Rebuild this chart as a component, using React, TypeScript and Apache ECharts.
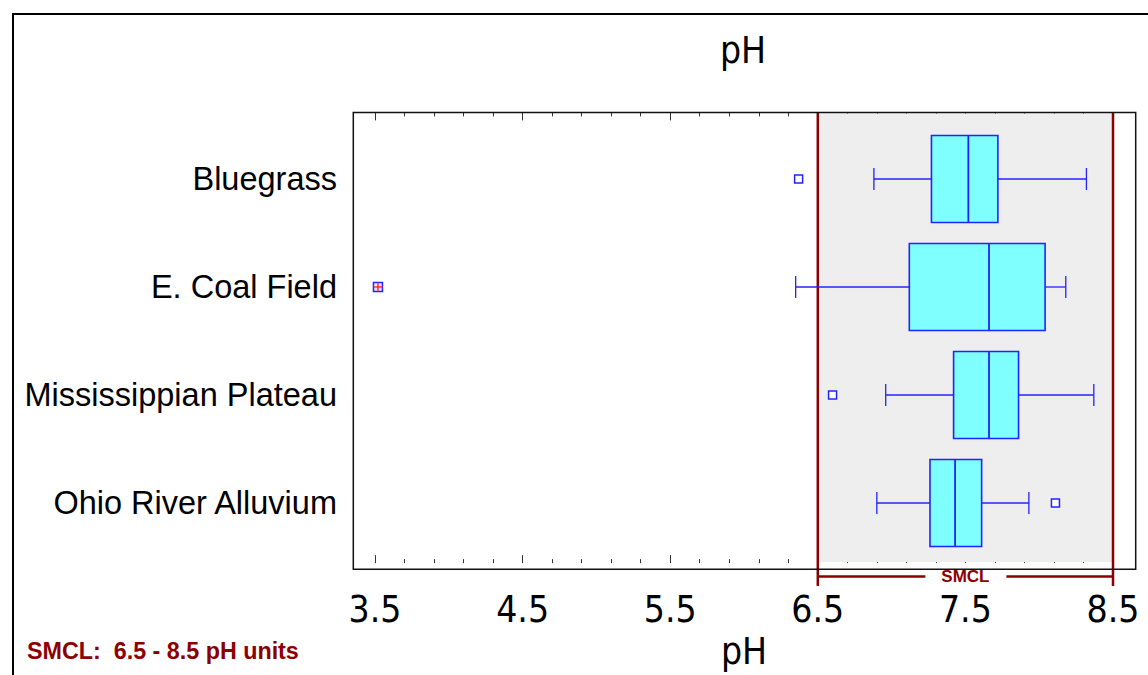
import React, { useEffect, useRef } from 'react';
import * as echarts from 'echarts';

// ---- data ----
const categories = ['Bluegrass', 'E. Coal Field', 'Mississippian Plateau', 'Ohio River Alluvium'];
const whiskerLow = [6.88, 6.35, 6.96, 6.9];
const quartile1 = [7.27, 7.12, 7.42, 7.26];
const median = [7.52, 7.66, 7.66, 7.43];
const quartile3 = [7.72, 8.04, 7.86, 7.61];
const whiskerHigh = [8.32, 8.18, 8.37, 7.93];
const outliers: [number, number][] = [
  [6.37, 0],
  [6.6, 2],
  [8.11, 3],
];
const farOutliers: [number, number][] = [[3.52, 1]];
const smclRange = [6.5, 8.5];
const axisMin = 3.5;
const axisMax = 8.5;
const axisStep = 1;
const frameMin = 3.353;
const frameMax = 8.656;

const NARROW = "'Liberation Sans Narrow', 'Arial Narrow', 'DejaVu Sans Condensed', sans-serif";
const SANS = "'Liberation Sans', Arial, sans-serif";
const DARKRED = '#8B0000';
const BLUE = '#2323ff';

export default function App() {
  const ref = useRef<HTMLDivElement>(null);

  useEffect(() => {
    const chart = echarts.init(ref.current!, null, { renderer: 'svg' });

    const boxRows = categories.map((_, i) => [
      i,
      whiskerLow[i],
      quartile1[i],
      median[i],
      quartile3[i],
      whiskerHigh[i],
    ]);

    const tickAxisCommon = {
      type: 'value',
      gridIndex: 1,
      min: axisMin,
      max: axisMax,
      interval: axisStep,
      axisLine: { show: false },
      axisTick: { show: true, inside: true, length: 8, lineStyle: { color: '#333', width: 1 } },
      minorTick: { show: true, splitNumber: 5, length: 4, lineStyle: { color: '#333', width: 1 } },
      splitLine: { show: false },
    };

    const option: any = {
      animation: false,
      backgroundColor: '#fff',
      grid: [
        {
          left: 353.3,
          top: 112.4,
          width: 782.4,
          height: 456.9,
          show: true,
          borderColor: '#111',
          borderWidth: 1.5,
          backgroundColor: 'transparent',
          z: 5,
        },
        { left: 375, top: 112.4, width: 738, height: 456.9 },
        { left: 375, top: 125, width: 738, height: 432 },
      ],
      xAxis: [
        { type: 'value', gridIndex: 0, min: frameMin, max: frameMax, show: false },
        {
          ...tickAxisCommon,
          position: 'bottom',
          axisLabel: {
            show: true,
            fontSize: 37,
            fontFamily: NARROW,
            color: '#000',
            margin: 28,
            showMinLabel: true,
            showMaxLabel: true,
            formatter: (v: number) => v.toFixed(1),
          },
          name: 'pH',
          nameLocation: 'middle',
          nameGap: 69,
          nameTextStyle: { fontSize: 37, fontFamily: NARROW, color: '#000' },
        },
        {
          ...tickAxisCommon,
          position: 'top',
          axisLabel: { show: false },
        },
        { type: 'value', gridIndex: 2, min: axisMin, max: axisMax, show: false },
      ],
      yAxis: [
        { type: 'value', gridIndex: 0, show: false },
        { type: 'value', gridIndex: 1, min: 0, max: 1, show: false },
        {
          type: 'category',
          gridIndex: 2,
          data: categories,
          inverse: true,
          axisLine: { show: false },
          axisTick: { show: false },
          splitLine: { show: false },
          axisLabel: { fontSize: 32.5, fontFamily: SANS, color: '#000', margin: 38 },
        },
      ],
      graphic: [
        {
          type: 'rect',
          z: 0,
          silent: true,
          shape: { x: 13, y: 14, width: 1400, height: 900 },
          style: { fill: 'none', stroke: '#000', lineWidth: 2 },
        },
        {
          type: 'text',
          x: 743,
          y: 50,
          style: {
            text: 'pH',
            fontSize: 37,
            fontFamily: NARROW,
            fill: '#000',
            align: 'center',
            verticalAlign: 'middle',
          },
        },
        {
          type: 'text',
          x: 27,
          y: 651,
          style: {
            text: 'SMCL:  6.5 - 8.5 pH units',
            fontSize: 23.3,
            fontWeight: 'bold',
            fontFamily: SANS,
            fill: DARKRED,
            align: 'left',
            verticalAlign: 'middle',
          },
        },
      ],
      series: [
        {
          type: 'custom',
          name: 'SMCL',
          xAxisIndex: 1,
          yAxisIndex: 1,
          silent: true,
          z: 1,
          clip: false,
          data: [[smclRange[0], smclRange[1]]],
          encode: { x: [0, 1] },
          renderItem: (params: any, api: any) => {
            const cs = params.coordSys;
            const x1 = api.coord([api.value(0), 0])[0];
            const x2 = api.coord([api.value(1), 0])[0];
            const top = cs.y;
            const bot = cs.y + cs.height;
            const xm = (x1 + x2) / 2;
            const by = bot + 13.5;
            const red = { stroke: DARKRED, lineWidth: 2.5 };
            return {
              type: 'group',
              children: [
                {
                  type: 'rect',
                  shape: { x: x1, y: top + 1, width: x2 - x1, height: cs.height - 2 },
                  style: { fill: '#EEEEEE' },
                },
                { type: 'line', shape: { x1: x1, y1: top, x2: x1, y2: bot + 23 }, style: red },
                { type: 'line', shape: { x1: x2, y1: top, x2: x2, y2: bot + 23 }, style: red },
                { type: 'line', shape: { x1: x1, y1: by, x2: xm - 40, y2: by }, style: red },
                { type: 'line', shape: { x1: xm + 41, y1: by, x2: x2, y2: by }, style: red },
                {
                  type: 'text',
                  x: xm,
                  y: by,
                  style: {
                    text: 'SMCL',
                    fill: DARKRED,
                    fontSize: 17,
                    fontWeight: 'bold',
                    fontFamily: SANS,
                    align: 'center',
                    verticalAlign: 'middle',
                  },
                },
              ],
            };
          },
        },
        {
          type: 'custom',
          name: 'pH boxes',
          xAxisIndex: 3,
          yAxisIndex: 2,
          z: 3,
          clip: false,
          data: boxRows,
          encode: { x: [1, 2, 3, 4, 5], y: 0 },
          renderItem: (params: any, api: any) => {
            const ci = api.value(0);
            const p = [1, 2, 3, 4, 5].map((d) => api.coord([api.value(d), ci]));
            const y = p[0][1];
            const h = 87;
            const cap = 11;
            const ls = { stroke: BLUE, lineWidth: 1.3 };
            return {
              type: 'group',
              children: [
                { type: 'line', shape: { x1: p[0][0], y1: y, x2: p[1][0], y2: y }, style: ls },
                { type: 'line', shape: { x1: p[3][0], y1: y, x2: p[4][0], y2: y }, style: ls },
                { type: 'line', shape: { x1: p[0][0], y1: y - cap, x2: p[0][0], y2: y + cap }, style: ls },
                { type: 'line', shape: { x1: p[4][0], y1: y - cap, x2: p[4][0], y2: y + cap }, style: ls },
                {
                  type: 'rect',
                  shape: { x: p[1][0], y: y - h / 2, width: p[3][0] - p[1][0], height: h },
                  style: { fill: '#80FFFF', stroke: BLUE, lineWidth: 1.6 },
                },
                {
                  type: 'line',
                  shape: { x1: p[2][0], y1: y - h / 2, x2: p[2][0], y2: y + h / 2 },
                  style: { stroke: BLUE, lineWidth: 1.8 },
                },
              ],
            };
          },
        },
        {
          type: 'scatter',
          name: 'Outliers',
          xAxisIndex: 3,
          yAxisIndex: 2,
          z: 4,
          symbol: 'rect',
          symbolSize: 8,
          itemStyle: { color: '#ffffff', borderColor: BLUE, borderWidth: 1.5, opacity: 1 },
          data: outliers,
        },
        {
          type: 'custom',
          name: 'Far outliers',
          xAxisIndex: 3,
          yAxisIndex: 2,
          z: 4,
          clip: false,
          data: farOutliers,
          encode: { x: 0, y: 1 },
          renderItem: (params: any, api: any) => {
            const c = api.coord([api.value(0), api.value(1)]);
            const s = 4.5;
            return {
              type: 'group',
              children: [
                {
                  type: 'rect',
                  shape: { x: c[0] - s, y: c[1] - s, width: 2 * s, height: 2 * s },
                  style: { fill: '#f4e4ff', stroke: BLUE, lineWidth: 1.5 },
                },
                { type: 'line', shape: { x1: c[0], y1: c[1] - s, x2: c[0], y2: c[1] + s }, style: { stroke: '#ff2020', lineWidth: 1.3 } },
                { type: 'line', shape: { x1: c[0] - s, y1: c[1], x2: c[0] + s, y2: c[1] }, style: { stroke: '#ff2020', lineWidth: 1.3 } },
              ],
            };
          },
        },
      ],
    };

    chart.setOption(option);
    return () => chart.dispose();
  }, []);

  return (
    <div
      ref={ref}
      style={{ position: 'fixed', left: 0, top: 0, width: 1148, height: 675, background: '#fff' }}
    />
  );
}
